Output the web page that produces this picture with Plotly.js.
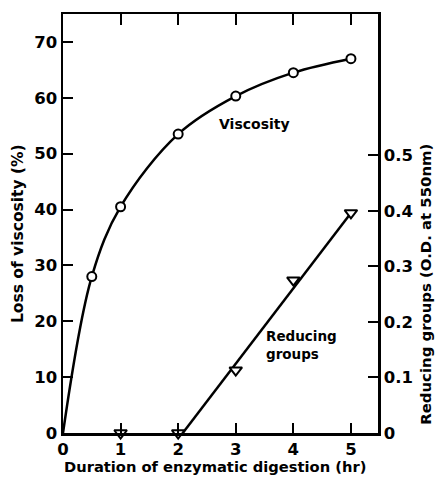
<!DOCTYPE html>
<html>
<head>
<meta charset="utf-8">
<script src="https://cdn.plot.ly/plotly-3.0.1.min.js"></script>
<style>html,body{margin:0;padding:0;background:#fff;}#chart{width:435px;height:479px;}</style>
</head>
<body>
<div id="chart"></div>
<script>
// Data
var viscHours = [0, 0.5, 1, 2, 3, 4, 5];
var viscLoss = [0, 28, 40.5, 53.5, 60.3, 64.5, 67];
var redHours = [1, 2, 3, 4, 5];
var redOD = [0, 0, 0.113, 0.275, 0.396];
var fitHours = [2.08, 5];
var fitOD = [0, 0.396];
var xTicks = [0, 1, 2, 3, 4, 5];
var topTicks = [1, 2, 3, 4, 5];
var leftTicks = [0, 10, 20, 30, 40, 50, 60, 70];
var rightTicks = [0, 0.1, 0.2, 0.3, 0.4, 0.5];
var rightTickText = ['0', '0.1', '0.2', '0.3', '0.4', '0.5'];

var FONT = 'DejaVu Sans, sans-serif';
var XR = [0, 5.47];
var TICKSIZE = 16.5;
var traces = [
  {x: viscHours, y: viscLoss, mode: 'lines', line: {color: '#000', width: 2.5, shape: 'spline', smoothing: 1}, hoverinfo: 'skip', showlegend: false},
  {x: viscHours.slice(1), y: viscLoss.slice(1), mode: 'markers', marker: {symbol: 'circle', size: 9, color: '#fff', line: {color: '#000', width: 2}}, showlegend: false, cliponaxis: false},
  {x: fitHours, y: fitOD, yaxis: 'y2', mode: 'lines', line: {color: '#000', width: 2.5}, showlegend: false},
  {x: redHours, y: redOD, yaxis: 'y2', mode: 'markers', marker: {symbol: 'triangle-down', size: 11, color: '#fff', line: {color: '#000', width: 2}}, showlegend: false, cliponaxis: false},
  {x: [null], y: [null], xaxis: 'x2', mode: 'markers', showlegend: false}
];

var titleFont = function (s) { return {family: FONT, size: s, weight: 'bold', color: '#000'}; };

var layout = {
  width: 435, height: 479,
  margin: {l: 63, r: 57, t: 14, b: 46},
  paper_bgcolor: '#fff', plot_bgcolor: '#fff',
  font: {family: FONT, color: '#000', size: 15},
  xaxis: {
    range: XR, tickvals: xTicks, ticks: 'inside', ticklen: 10, tickwidth: 2, tickcolor: '#000',
    showline: true, linewidth: 2.5, linecolor: '#000', showgrid: false, zeroline: false,
    tickfont: {family: FONT, size: TICKSIZE, weight: 'bold'}
  },
  xaxis2: {
    overlaying: 'x', side: 'top', anchor: 'y', range: XR, tickvals: topTicks, showticklabels: false,
    ticks: 'inside', ticklen: 11, tickwidth: 2, tickcolor: '#000',
    showline: true, linewidth: 2.5, linecolor: '#000', showgrid: false, zeroline: false
  },
  yaxis: {
    range: [0, 75], tickvals: leftTicks, ticks: 'inside', ticklen: 10, tickwidth: 2, tickcolor: '#000',
    showline: true, linewidth: 2.5, linecolor: '#000', showgrid: false, zeroline: false,
    tickfont: {family: FONT, size: TICKSIZE, weight: 'bold'}
  },
  yaxis2: {
    overlaying: 'y', side: 'right', range: [0, 0.754], tickvals: rightTicks, ticktext: rightTickText,
    ticks: 'inside', ticklen: 10, tickwidth: 2, tickcolor: '#000',
    showline: true, linewidth: 2.5, linecolor: '#000', showgrid: false, zeroline: false,
    tickfont: {family: FONT, size: TICKSIZE, weight: 'bold'}
  },
  annotations: [
    {x: 3.32, y: 55.4, xref: 'x', yref: 'y', text: 'Viscosity', showarrow: false, font: titleFont(14)},
    {x: 4.14, y: 15.7, xref: 'x', yref: 'y', text: 'Reducing<br>groups', align: 'left', showarrow: false, font: titleFont(13.5)},
    {x: 0.4825, y: -0.081, xref: 'paper', yref: 'paper', xanchor: 'center', yanchor: 'middle', text: 'Duration of enzymatic digestion (hr)', showarrow: false, font: titleFont(14.7)},
    {x: -0.143, y: 0.477, xref: 'paper', yref: 'paper', xanchor: 'center', yanchor: 'middle', text: 'Loss of viscosity (%)', textangle: -90, showarrow: false, font: titleFont(15.5)},
    {x: 1.152, y: 0.356, xref: 'paper', yref: 'paper', xanchor: 'center', yanchor: 'middle', text: 'Reducing groups (O.D. at 550nm)', textangle: -90, showarrow: false, font: titleFont(14.9)}
  ]
};

Plotly.newPlot('chart', traces, layout, {displayModeBar: false, staticPlot: true});
</script>
</body>
</html>
